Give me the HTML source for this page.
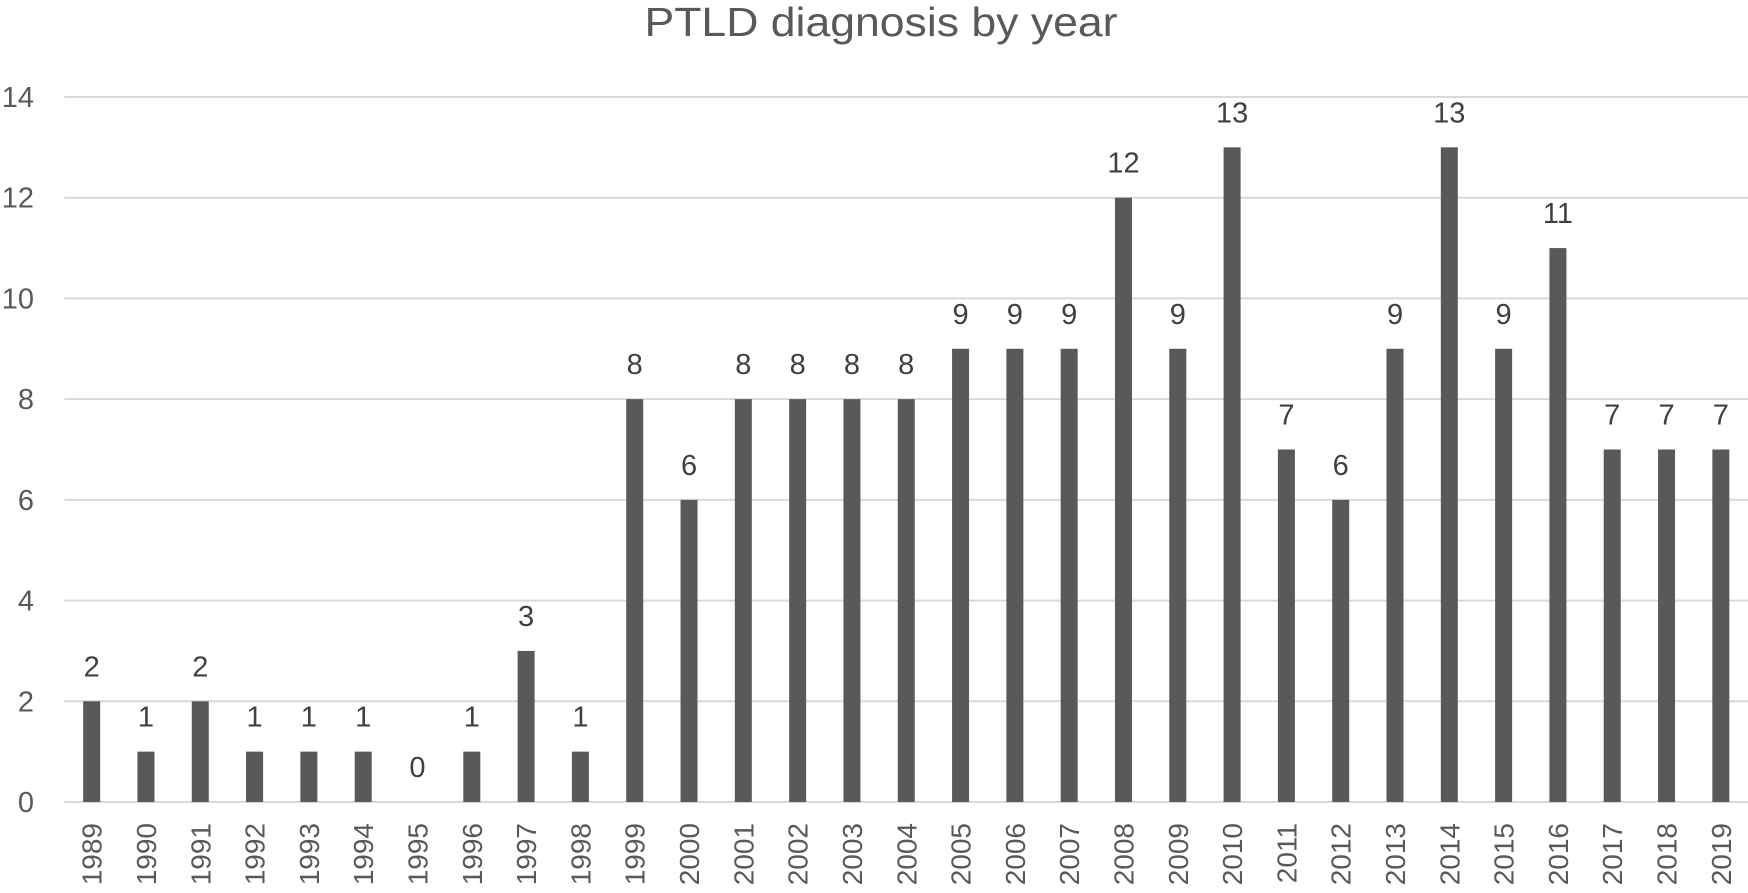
<!DOCTYPE html>
<html><head><meta charset="utf-8"><style>
html,body{margin:0;padding:0;background:#fff;}
svg{display:block;font-family:"Liberation Sans",sans-serif;}
</style></head><body>
<svg id="chart" width="1748" height="893" viewBox="0 0 1748 893">
<text x="881" y="36" text-anchor="middle" font-size="41" fill="#595959" textLength="473" lengthAdjust="spacingAndGlyphs">PTLD diagnosis by year</text>
<g id="grid"></g><g id="bars"></g><g id="labels"></g>
</svg>
<script>
const categories=["1989","1990","1991","1992","1993","1994","1995","1996","1997","1998","1999","2000","2001","2002","2003","2004","2005","2006","2007","2008","2009","2010","2011","2012","2013","2014","2015","2016","2017","2018","2019"];
const values=[2,1,2,1,1,1,0,1,3,1,8,6,8,8,8,8,9,9,9,12,9,13,7,6,9,13,9,11,7,7,7];
const yTicks=[0,2,4,6,8,10,12,14];
const NS="http://www.w3.org/2000/svg";
const left=64.5,right=1748,y0=802,y14=97,yMax=14;
const band=(right-left)/categories.length,barW=17;
function x(i){return left+band*(i+0.5);}
function y(v){return y0-(y0-y14)*v/yMax;}
function mk(tag,attrs,parent){const e=document.createElementNS(NS,tag);for(const k in attrs)e.setAttribute(k,attrs[k]);parent.appendChild(e);return e;}
const grid=document.getElementById('grid'),bars=document.getElementById('bars'),labels=document.getElementById('labels');
yTicks.forEach(t=>{
  const l=mk('line',{x1:left,x2:right,y1:y(t),y2:y(t),stroke:'#d9d9d9','stroke-width':2},grid);
  
  
  const tx=mk('text',{x:34,y:y(t)+10,'text-anchor':'end','font-size':29,fill:'#595959'},grid);
  tx.textContent=t;
  
  
});
categories.forEach((c,i)=>{
  const v=values[i];
  const r=mk('rect',{x:x(i)-barW/2,y:y(v),width:barW,height:y0-y(v),fill:'#595959'},bars);
  
  
  const dl=mk('text',{x:x(i),y:y(v)-25,'text-anchor':'middle','font-size':29,fill:'#404040'},labels);
  dl.textContent=v;
  
  
  const cl=mk('text',{x:0,y:0,'text-anchor':'end','font-size':28,fill:'#595959',transform:'translate('+(x(i)+10)+',823) rotate(-90)'},labels);
  cl.textContent=c;
  
  
});
</script>
</body></html>
